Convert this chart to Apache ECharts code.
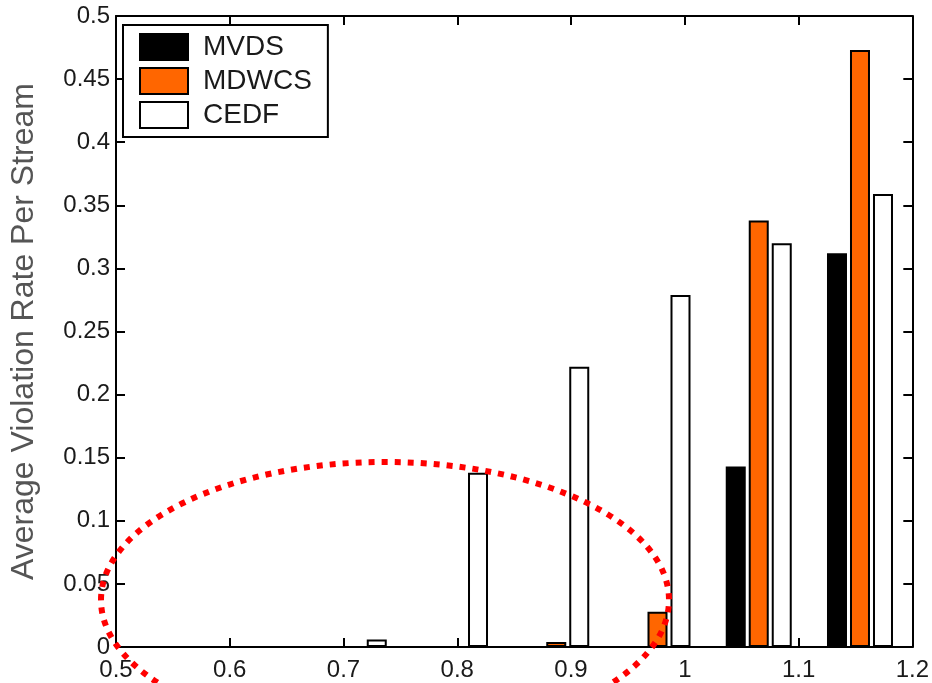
<!DOCTYPE html>
<html>
<head>
<meta charset="utf-8">
<script src="https://cdn.jsdelivr.net/npm/echarts@6/dist/echarts.min.js"></script>
<style>
  html, body { margin: 0; padding: 0; background: #fff; }
  #main { width: 932px; height: 683px; }
</style>
</head>
<body>
<div id="main"></div>
<script>
// group centres on the x axis
var groups = [0.709, 0.798, 0.887, 0.976, 1.065, 1.154];
var mvds  = [0, 0, 0, 0, 0.143, 0.312];
var mdwcs = [0, 0, 0.004, 0.028, 0.338, 0.473];
var cedf  = [0.006, 0.138, 0.222, 0.279, 0.320, 0.359];
var seriesNames = ['MVDS', 'MDWCS', 'CEDF'];
var seriesColors = ['#000000', '#ff6600', '#ffffff'];

function pairs(vals) {
    return groups.map(function (x, i) { return [x, vals[i]]; });
}

var font = '"Liberation Sans", Arial, Helvetica, sans-serif';

var tickStyle = { show: true, inside: true, length: 9, lineStyle: { color: '#000', width: 2 } };
var lineStyle = { show: true, onZero: false, lineStyle: { color: '#000', width: 2 } };

var option = {
    backgroundColor: '#fff',
    animation: false,
    textStyle: { fontFamily: font },
    grid: { left: 116, right: 19, top: 16, bottom: 36 },
    legend: {
        orient: 'vertical',
        left: 123,
        top: 25,
        padding: [8, 16, 8, 16],
        itemWidth: 48,
        itemHeight: 26,
        itemGap: 6,
        borderColor: '#000',
        borderWidth: 2,
        backgroundColor: '#fff',
        icon: 'rect',
        textStyle: { fontSize: 28, color: '#1a1a1a', fontFamily: font, padding: [0, 0, 0, 10] },
        data: seriesNames
    },
    xAxis: [
        {
            type: 'value', min: 0.5, max: 1.2, interval: 0.1,
            axisLine: lineStyle, axisTick: tickStyle, splitLine: { show: false },
            axisLabel: { fontSize: 24, color: '#1a1a1a', margin: 11, fontFamily: font }
        },
        {
            type: 'value', position: 'top', min: 0.5, max: 1.2, interval: 0.1,
            axisLine: lineStyle, axisTick: tickStyle, splitLine: { show: false },
            axisLabel: { show: false }
        }
    ],
    yAxis: [
        {
            type: 'value', min: 0, max: 0.5, interval: 0.05,
            name: 'Average Violation Rate Per Stream',
            nameLocation: 'middle', nameGap: 76,
            nameTextStyle: { fontSize: 32, color: '#555', fontFamily: font },
            axisLine: lineStyle, axisTick: tickStyle, splitLine: { show: false },
            axisLabel: { fontSize: 24, color: '#1a1a1a', margin: 6, fontFamily: font }
        },
        {
            type: 'value', position: 'right', min: 0, max: 0.5, interval: 0.05,
            axisLine: lineStyle, axisTick: tickStyle, splitLine: { show: false },
            axisLabel: { show: false }
        }
    ],
    series: [mvds, mdwcs, cedf].map(function (vals, i) {
        return {
            name: seriesNames[i],
            type: 'bar',
            xAxisIndex: 0,
            yAxisIndex: 0,
            barWidth: 20,
            barGap: '15%',
            itemStyle: { color: seriesColors[i], borderColor: '#000', borderWidth: 2 },
            data: pairs(vals)
        };
    }),
    graphic: [
        {
            type: 'ellipse',
            z: 100,
            shape: { cx: 385, cy: 600, rx: 284, ry: 138 },
            style: { fill: 'none', stroke: '#ff0000', lineWidth: 6, lineDash: [6, 7] }
        }
    ]
};

var myChart = echarts.init(document.getElementById('main'));
myChart.setOption(option);
</script>
</body>
</html>
